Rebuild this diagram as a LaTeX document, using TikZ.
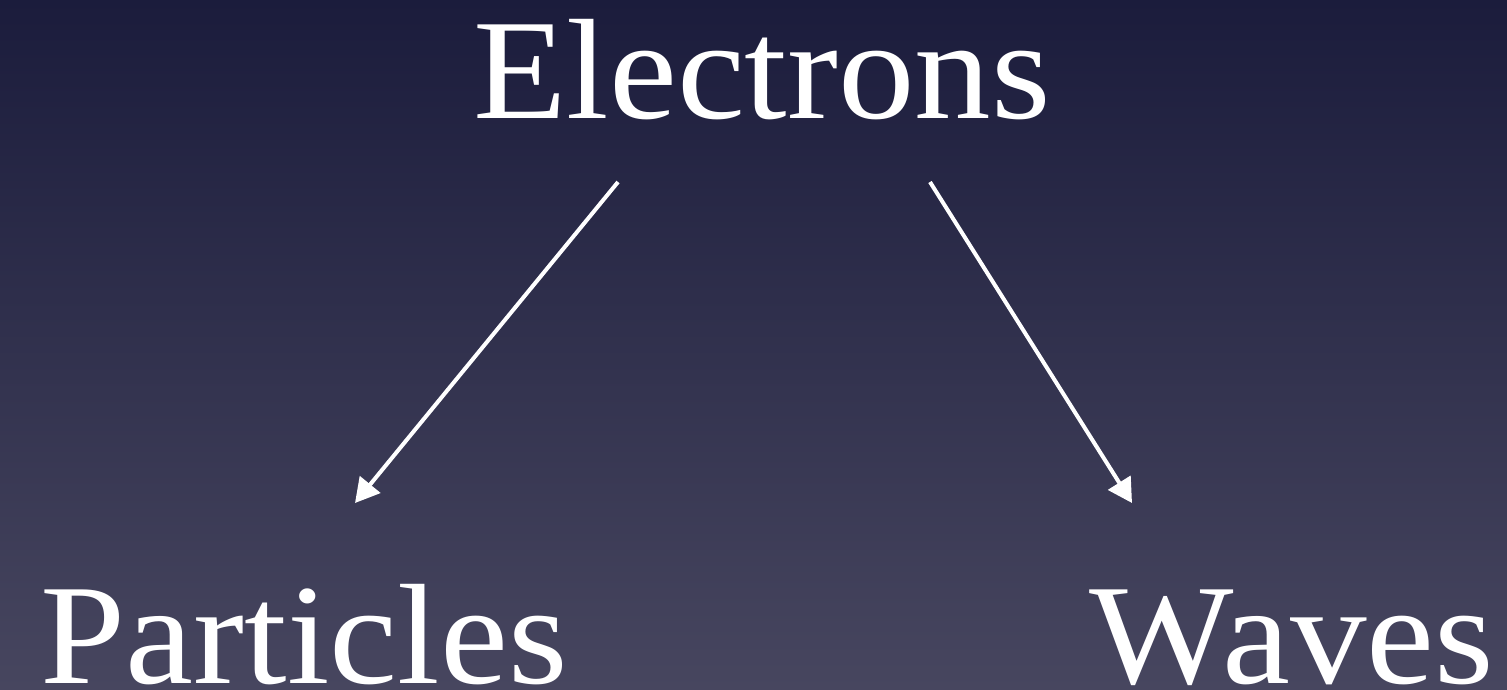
\documentclass[tikz,border=0pt]{standalone}
\usepackage{fontspec}
\setmainfont{Liberation Serif}[FakeStretch=1.07]
\usetikzlibrary{arrows.meta}
\definecolor{bgtop}{HTML}{1B1C3C}
\definecolor{bgbot}{HTML}{47465F}
\tikzset{
  word/.style={text=white, inner sep=0pt, anchor=base, font=\fontsize{143}{160}\selectfont},
  arr/.style={draw=white, line width=4pt, -{Triangle[length=24pt,width=26pt]}}
}
\begin{document}
\begin{tikzpicture}[x=1pt,y=-1pt]
\fill[top color=bgtop, bottom color=bgbot] (0,0) rectangle (1507,689);
\useasboundingbox (0,0) rectangle (1507,689);
\node[word] (el) at (762,118) {Electrons};
\node[word] (pa) at (304,683) {Particles};
\node[word] (wa) at (1292,683) {Waves};
\draw[arr] ([shift={(-144,64)}]el.base) -- ([shift={(51,-180)}]pa.base);
\draw[arr] ([shift={(168,64)}]el.base) -- ([shift={(-160,-180)}]wa.base);
\end{tikzpicture}
\end{document}
